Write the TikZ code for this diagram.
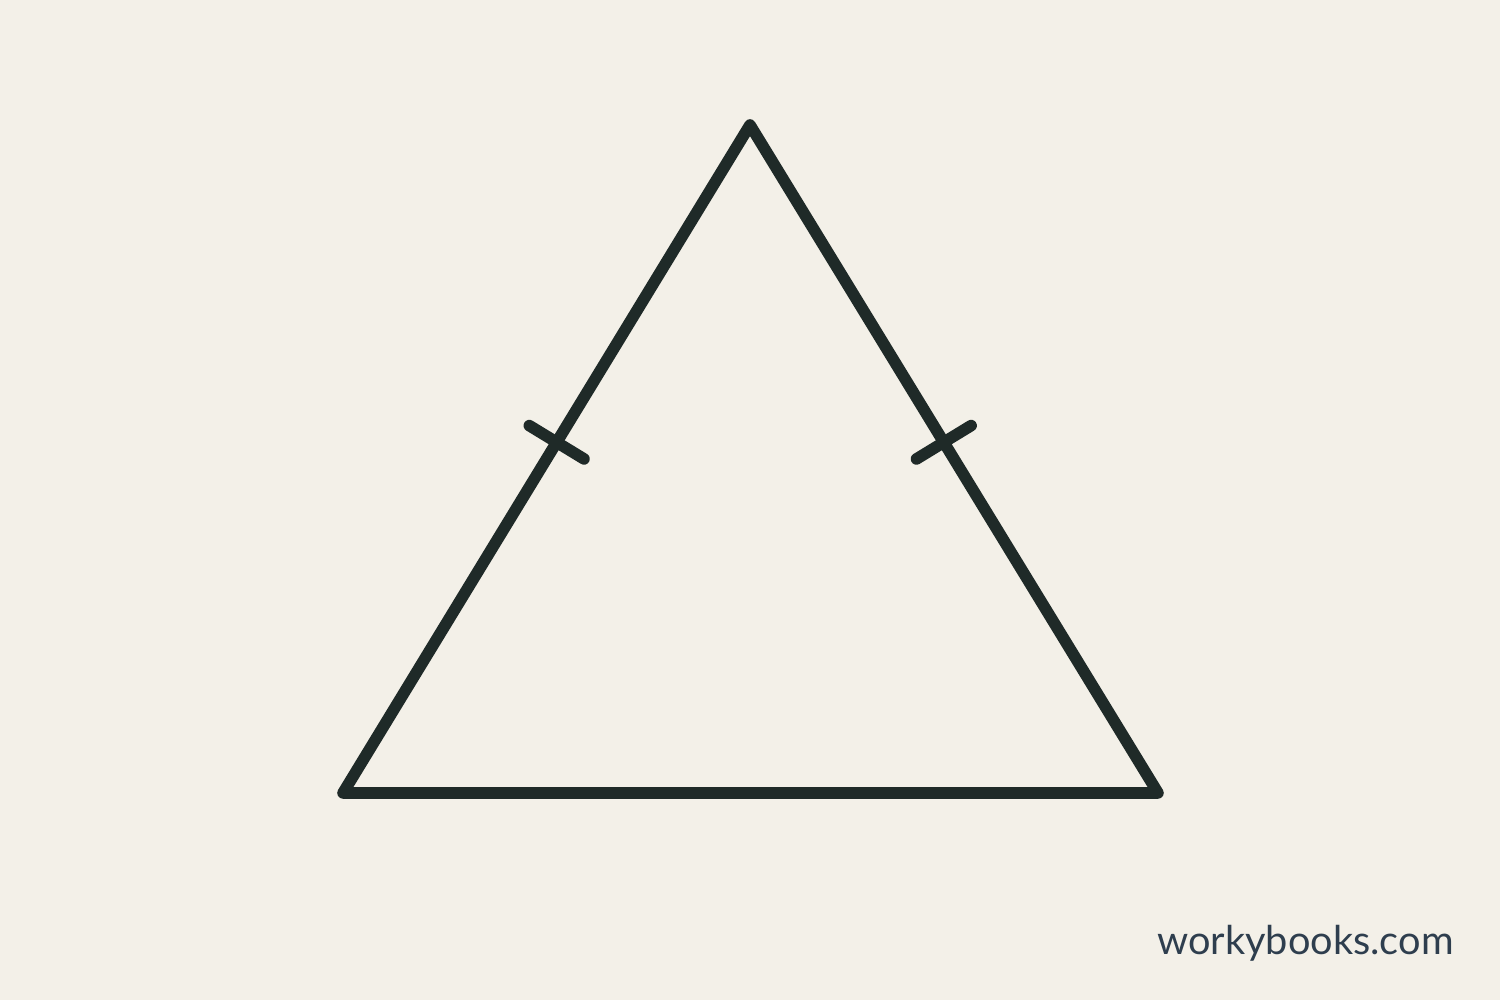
\documentclass[tikz,border=0pt]{standalone}
\usepackage{fontspec}
\setsansfont{Lato}
\usepackage{xcolor}
\usepackage{tikz}
\usetikzlibrary{calc}
\definecolor{paper}{HTML}{F3F0E8}
\definecolor{ink}{HTML}{1F2A28}
\definecolor{brand}{HTML}{2E3E4E}
\tikzset{
  tri/.style={draw=ink, line width=3.3pt, line join=round, line cap=round},
  tickmark/.style={draw=ink, line width=3.3pt, line cap=round},
  labb/.style={text=brand, font=\sffamily\fontsize{11.3}{13}\selectfont}
}
\newcommand{\TickOn}[2]{%
  \path (#1) -- (#2) coordinate[pos=0.525] (M);
  \draw[tickmark] ($(M)!0.32cm!90:(#2)$) -- ($(M)!0.32cm!-90:(#2)$);
}

\begin{document}
\begin{tikzpicture}
  \fill[paper] (0,0) rectangle (15,10);
  \useasboundingbox (0,0) rectangle (15,10);

  \coordinate (A) at (3.43,2.07);
  \coordinate (B) at (11.58,2.07);
  \coordinate (C) at (7.50,8.75);

  \draw[tri] (A)--(B)--(C)--cycle;

  \TickOn{A}{C}
  \TickOn{B}{C}

  \node[labb, anchor=east] (site) at (14.66,0.57) {workybooks.com};
\end{tikzpicture}
\end{document}
